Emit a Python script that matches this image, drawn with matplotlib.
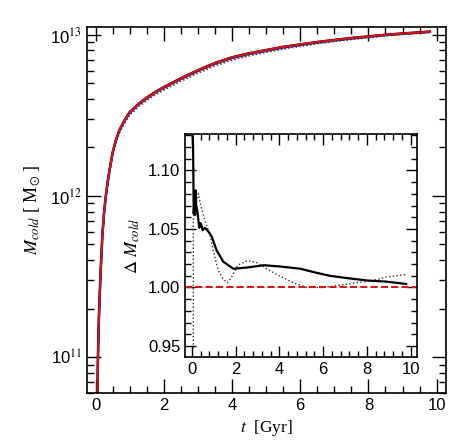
import numpy as np
import matplotlib
matplotlib.use("Agg")
import matplotlib.pyplot as plt
from matplotlib.ticker import MultipleLocator, LogLocator, NullFormatter, FixedLocator

plt.rcParams.update({
    "font.family": "Liberation Sans",
    "mathtext.fontset": "stix",
    "font.size": 12,
    "axes.linewidth": 1.2,
    "xtick.direction": "in",
    "ytick.direction": "in",
    "xtick.top": True,
    "ytick.right": True,
})

# ---- main panel: cold gas mass vs time (log10 of M in Msun) ----
t_main = [0.05, 0.06, 0.07, 0.08, 0.10, 0.12, 0.15, 0.2, 0.25, 0.3, 0.35, 0.4,
          0.5, 0.6, 0.7, 0.85, 1.0, 1.25, 1.5, 1.75, 2.0, 2.5, 3.0, 3.5, 4.0,
          4.5, 5.0, 5.5, 6.0, 6.5, 7.0, 7.5, 8.0, 8.5, 9.0, 9.5, 9.8]
logm_black = [10.70, 10.85, 11.00, 11.10, 11.26, 11.38, 11.54, 11.76, 11.90,
              12.00, 12.08, 12.15, 12.27, 12.35, 12.41, 12.47, 12.52, 12.57,
              12.61, 12.645, 12.675, 12.73, 12.78, 12.825, 12.86, 12.885,
              12.905, 12.925, 12.94, 12.955, 12.968, 12.98, 12.99, 13.0,
              13.008, 13.015, 13.02]
logm_blue = [10.70, 10.85, 11.00, 11.10, 11.255, 11.375, 11.535, 11.755, 11.895,
             11.995, 12.075, 12.145, 12.265, 12.345, 12.405, 12.465, 12.515,
             12.565, 12.605, 12.64, 12.67, 12.725, 12.775, 12.82, 12.855,
             12.88, 12.9, 12.92, 12.936, 12.951, 12.964, 12.976, 12.987,
             12.997, 13.005, 13.012, 13.017]
logm_red = [10.70, 10.85, 11.00, 11.10, 11.26, 11.38, 11.54, 11.76, 11.90,
            12.00, 12.08, 12.15, 12.27, 12.35, 12.41, 12.47, 12.52, 12.57,
            12.61, 12.645, 12.675, 12.73, 12.78, 12.825, 12.86, 12.885,
            12.905, 12.925, 12.94, 12.955, 12.968, 12.98, 12.99, 13.0,
            13.008, 13.015, 13.02]
logm_blue_dot = [10.69, 10.84, 10.99, 11.09, 11.25, 11.37, 11.52, 11.74, 11.88,
                 11.98, 12.06, 12.13, 12.25, 12.33, 12.39, 12.45, 12.50, 12.55,
                 12.59, 12.625, 12.655, 12.71, 12.76, 12.805, 12.842, 12.868,
                 12.89, 12.91, 12.927, 12.943, 12.957, 12.97, 12.981, 12.992,
                 13.001, 13.009, 13.014]
logm_red_dot = [10.69, 10.84, 10.99, 11.09, 11.25, 11.37, 11.525, 11.745, 11.885,
                11.985, 12.065, 12.135, 12.255, 12.335, 12.395, 12.455, 12.505,
                12.555, 12.595, 12.63, 12.66, 12.715, 12.765, 12.81, 12.846,
                12.872, 12.894, 12.914, 12.93, 12.946, 12.96, 12.973, 12.984,
                12.995, 13.004, 13.011, 13.016]

# ---- inset: ratio of cold gas masses ----
t_ratio = [0.03, 0.06, 0.09, 0.12, 0.15, 0.17, 0.2, 0.25, 0.3, 0.34, 0.4, 0.44,
           0.5, 0.6, 0.75, 0.9, 1.13, 1.44, 1.9, 2.5, 3.3, 4.0, 4.97, 5.6,
           6.3, 7.1, 8.0, 8.9, 9.8]
r_solid = [1.135, 1.12, 1.063, 1.075, 1.062, 1.083, 1.07, 1.066, 1.058, 1.051,
           1.055, 1.053, 1.049, 1.051, 1.048, 1.044, 1.032, 1.022, 1.016, 1.017,
           1.019, 1.018, 1.016, 1.013, 1.010, 1.008, 1.006, 1.005, 1.003]
t_dot = [0.07, 0.07, 0.1, 0.14, 0.2, 0.3, 0.44, 0.6, 0.83, 0.99, 1.2, 1.44,
         1.62, 1.8, 2.1, 2.55, 3.0, 3.5, 4.0, 4.65, 5.25, 6.0, 6.8, 7.5, 8.3,
         8.9, 9.8]
r_dot = [0.948, 1.055, 1.07, 1.077, 1.072, 1.080, 1.068, 1.057, 1.045, 1.031,
         1.015, 1.007, 1.004, 1.008, 1.019, 1.023, 1.021, 1.015, 1.010, 1.004,
         1.000, 1.000, 1.002, 1.004, 1.006, 1.009, 1.011]

fig = plt.figure(figsize=(4.63, 4.47), dpi=100)
ax = fig.add_axes([0.188, 0.121, 0.775, 0.819])

ax.plot(t_main, 10 ** np.array(logm_blue_dot), color="#2b3f9e", lw=1.0, ls=":")
ax.plot(t_main, 10 ** np.array(logm_red_dot), color="#e03030", lw=1.0, ls=":")
ax.plot(t_main, 10 ** np.array(logm_black), color="black", lw=1.8)
ax.plot(t_main, 10 ** np.array(logm_blue), color="#1c2f80", lw=1.6)
ax.plot(t_main, 10 ** np.array(logm_red), color="#e01010", lw=1.4)

ax.set_yscale("log")
ax.set_xlim(-0.25, 10.27)
ax.set_ylim(6e10, 1.12e13)
ax.xaxis.set_major_locator(MultipleLocator(2))
ax.xaxis.set_minor_locator(MultipleLocator(0.5))
ax.yaxis.set_major_locator(FixedLocator([1e11, 1e12, 1e13]))
ax.yaxis.set_minor_locator(LogLocator(base=10, subs=np.arange(2, 10)))
ax.yaxis.set_minor_formatter(NullFormatter())
ax.set_yticklabels([r"10$^{11}$", r"10$^{12}$", r"10$^{13}$"])
ax.tick_params(which="major", length=10, width=1.0)
ax.tick_params(which="minor", length=5, width=1.0)
ax.set_xlabel(r"$t$  [Gyr]", fontfamily="Liberation Serif", fontsize=12.5)
ax.set_ylabel(r"$M_{cold}$ [ M$_{\odot}$ ]", fontfamily="Liberation Serif",
              fontsize=13, labelpad=6)

ins = fig.add_axes([0.400, 0.201, 0.501, 0.499])
ins.plot(t_dot, r_dot, color="#333333", lw=1.0, ls=":")
ins.plot(t_ratio, r_solid, color="black", lw=1.6)
ins.axhline(1.0, color="#e01010", lw=1.4, ls="--")
ins.set_xlim(-0.3, 10.3)
ins.set_ylim(0.9405, 1.131)
ins.xaxis.set_major_locator(MultipleLocator(2))
ins.xaxis.set_minor_locator(MultipleLocator(0.4))
ins.yaxis.set_major_locator(MultipleLocator(0.05))
ins.yaxis.set_minor_locator(MultipleLocator(0.01))
ins.yaxis.set_major_formatter(plt.FormatStrFormatter("%.2f"))
ins.tick_params(which="major", length=8, width=1.0)
ins.tick_params(which="minor", length=4, width=1.0)
ins.set_ylabel(r"$\Delta\ M_{cold}$", fontfamily="Liberation Serif", fontsize=13)

fig.savefig("out.png", dpi=100)
